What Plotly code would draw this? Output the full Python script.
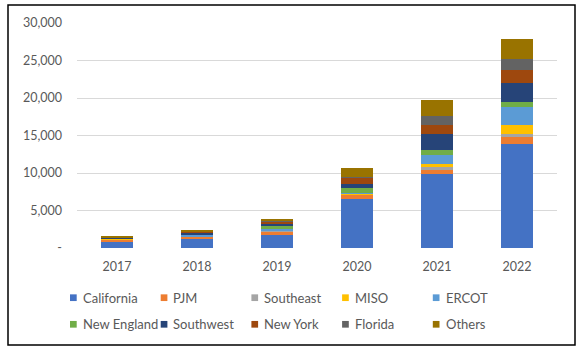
import plotly.graph_objects as go

years = ["2017", "2018", "2019", "2020", "2021", "2022"]
series_names = ["California", "PJM", "Southeast", "MISO", "ERCOT",
                "New England", "Southwest", "New York", "Florida", "Others"]
california = [800, 1220, 1750, 6550, 9925, 13910]
pjm = [350, 250, 450, 530, 490, 840]
southeast = [40, 60, 80, 60, 350, 445]
miso = [20, 40, 60, 80, 490, 1240]
ercot = [60, 200, 220, 80, 1150, 2350]
new_england = [50, 60, 330, 700, 665, 665]
southwest = [40, 250, 430, 575, 2080, 2525]
new_york = [40, 60, 150, 800, 1240, 1770]
florida = [20, 50, 80, 90, 1240, 1420]
others = [80, 150, 350, 1200, 2080, 2660]
y_tickvals = [0, 5000, 10000, 15000, 20000, 25000, 30000]
y_ticktext = ["-", "5,000", "10,000", "15,000", "20,000", "25,000", "30,000"]

series_values = [california, pjm, southeast, miso, ercot,
                 new_england, southwest, new_york, florida, others]
colors = ["#4472C4", "#ED7D31", "#A5A5A5", "#FFC000", "#5B9BD5",
          "#70AD47", "#264478", "#9E480E", "#636363", "#997300"]

FONT = "Lato"
GREY = "#595959"

fig = go.Figure()
for i, (name, vals) in enumerate(zip(series_names, series_values)):
    fig.add_trace(go.Bar(
        x=years, y=vals, name=name,
        marker=dict(color=colors[i], line=dict(width=0)),
        showlegend=False,
    ))

L, R, T, B = 77, 25, 23, 102
W, H = 582, 350
pw, ph = W - L - R, H - T - B

def px_x(x):
    return (x - L) / pw

def px_y(y):
    return (H - B - y) / ph

# legend layout (Excel-style two rows of five entries)
LEG_TEXT_X0 = 81.7
LEG_COL_W = 90.7
LEG_ROWS_Y = [297.7, 324.3]
SQ = 6.7
SQ_GAP = 5.0

shapes = [dict(
    type="rect", xref="paper", yref="paper",
    x0=px_x(8), x1=px_x(575), y0=px_y(345), y1=px_y(5),
    line=dict(color="black", width=1.5), fillcolor="rgba(0,0,0,0)",
    layer="above",
)]
annotations = []
for i, name in enumerate(series_names):
    col, row = i % 5, i // 5
    tx = LEG_TEXT_X0 + col * LEG_COL_W
    cy = LEG_ROWS_Y[row]
    sx1 = tx - SQ_GAP
    sx0 = sx1 - SQ
    shapes.append(dict(
        type="rect", xref="paper", yref="paper",
        x0=px_x(sx0), x1=px_x(sx1),
        y0=px_y(cy + SQ / 2), y1=px_y(cy - SQ / 2),
        line=dict(width=0), fillcolor=colors[i], layer="above",
    ))
    annotations.append(dict(
        text=name, xref="paper", yref="paper",
        x=px_x(tx - 1), y=px_y(cy), xanchor="left", yanchor="middle",
        showarrow=False, font=dict(family=FONT, size=13, color=GREY),
    ))

fig.update_layout(
    width=W, height=H,
    margin=dict(l=L, r=R, t=T, b=B, autoexpand=False),
    paper_bgcolor="white", plot_bgcolor="white",
    barmode="stack", bargap=0.6,
    font=dict(family=FONT, size=13, color=GREY),
    showlegend=False,
    xaxis=dict(
        showgrid=False, zeroline=False, showline=False, ticks="",
        tickfont=dict(family=FONT, size=12.5, color=GREY),
        ticklabelstandoff=9,
    ),
    yaxis=dict(
        range=[0, 30000], tickvals=y_tickvals, ticktext=y_ticktext,
        showgrid=True, gridcolor="#d9d9d9", gridwidth=1,
        zeroline=False, showline=False, ticks="",
        tickfont=dict(family=FONT, size=12.5, color=GREY),
        ticklabelstandoff=14,
    ),
    shapes=shapes,
    annotations=annotations,
)

fig.write_html("out.html")
